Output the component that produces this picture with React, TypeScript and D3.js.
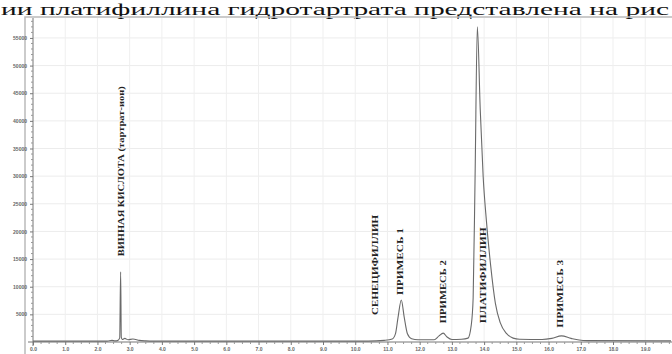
import React, { useRef, useEffect } from 'react';
import * as d3 from 'd3';

// retention time (min) and detector signal
const times = [
  0.0, 2.3, 2.45, 2.55, 2.62, 2.69, 2.72, 2.74, 2.77, 2.85, 2.95, 3.1, 3.3, 3.5, 3.7,
  10.4, 10.9, 11.15, 11.25, 11.33, 11.43, 11.52, 11.62, 11.75, 11.95, 12.45, 12.6, 12.73, 12.85,
  13.0, 13.3, 13.5, 13.6, 13.66, 13.72, 13.79, 13.88, 13.97, 14.07, 14.2, 14.35, 14.5, 14.7, 14.9, 15.1,
  15.8, 16.1, 16.4, 16.7, 16.95, 17.2, 19.8,
];
const signal = [
  150, 150, 300, 200, 250, 700, 12700, 900, 450, 650, 400, 550, 300, 200, 150,
  150, 300, 550, 1500, 4500, 7600, 4500, 1500, 600, 400, 400, 1100, 1600, 900,
  450, 500, 700, 3000, 8000, 30000, 57000, 42000, 30000, 22000, 14000, 7000, 3500, 1500, 700, 500,
  450, 650, 1100, 650, 350, 250, 200,
];

// peak annotations
const peakNames = ['ВИННАЯ КИСЛОТА (тартрат-ион)', 'СЕНЕЦИФИЛЛИН', 'ПРИМЕСЬ 1', 'ПРИМЕСЬ 2', 'ПЛАТИФИЛЛИН', 'ПРИМЕСЬ 3'];
const peakTimes = [2.72, 10.6, 11.4, 12.72, 13.97, 16.35];
const labelBase = [15500, 4900, 8500, 3400, 3400, 2600];
const labelLen = [170, 100, 67, 63, 96, 68];

const yTicks = [5000, 10000, 15000, 20000, 25000, 30000, 35000, 40000, 45000, 50000, 55000];
const xTicks = d3.range(0, 20, 1);

const App = () => {
  const chartRef = useRef(null);

  useEffect(() => {
    const root = d3.select(chartRef.current);
    const width = 672;
    const height = 354;

    const xScale = d3.scaleLinear().domain([0, 19.8]).range([33, 671]);
    const yScale = d3.scaleLinear().domain([0, 59150]).range([342, 15]);

    const svg = root
      .append('svg')
      .attr('width', width)
      .attr('height', height)
      .style('display', 'block')
      .style('background', '#fff');

    // caption line from the document above the figure
    svg
      .append('text')
      .attr('x', 1)
      .attr('y', 15)
      .attr('textLength', 668)
      .attr('lengthAdjust', 'spacingAndGlyphs')
      .style('font-family', '"Liberation Serif", "DejaVu Serif", serif')
      .style('font-size', '17px')
      .style('fill', '#111')
      .text('ии платифиллина гидротартрата представлена на рис');

    // outer frame
    svg
      .append('path')
      .attr('d', `M25,${height} V17 H${width}`)
      .attr('fill', 'none')
      .attr('stroke', '#bbb')
      .attr('stroke-width', 1.5);

    // grid
    svg
      .append('g')
      .selectAll('line')
      .data(yTicks)
      .enter()
      .append('line')
      .attr('x1', 33)
      .attr('x2', width)
      .attr('y1', (d) => yScale(d))
      .attr('y2', (d) => yScale(d))
      .attr('stroke', '#ececec');
    svg
      .append('g')
      .selectAll('line')
      .data(xTicks.slice(1))
      .enter()
      .append('line')
      .attr('x1', (d) => xScale(d))
      .attr('x2', (d) => xScale(d))
      .attr('y1', 18)
      .attr('y2', 342)
      .attr('stroke', '#efefef');

    // y axis
    const yAxis = d3
      .axisLeft(yScale)
      .tickValues(yTicks)
      .tickSize(3)
      .tickFormat((d) => String(d));
    const gy = svg.append('g').attr('transform', 'translate(33,0)').call(yAxis);
    gy.select('.domain').attr('stroke', '#777').attr('d', 'M0,18V346');
    gy.selectAll('line').attr('stroke', '#777');
    gy.selectAll('text')
      .style('font-family', 'Arial, "Liberation Sans", sans-serif')
      .style('font-size', '5px')
      .style('font-weight', 'bold')
      .attr('fill', '#666');
    const yMinor = d3.range(1000, 59000, 1000).filter((d) => d % 5000 !== 0);
    svg
      .append('g')
      .selectAll('line')
      .data(yMinor)
      .enter()
      .append('line')
      .attr('x1', 31)
      .attr('x2', 33)
      .attr('y1', (d) => yScale(d))
      .attr('y2', (d) => yScale(d))
      .attr('stroke', '#999');

    // x axis
    const xAxis = d3
      .axisBottom(xScale)
      .tickValues(xTicks)
      .tickSize(3)
      .tickFormat((d) => d3.format('.1f')(d));
    const gx = svg.append('g').attr('transform', 'translate(0,342)').call(xAxis);
    gx.select('.domain').attr('stroke', '#777').attr('d', `M28,0H${width}`);
    gx.selectAll('line').attr('stroke', '#777');
    gx.selectAll('text')
      .attr('y', 5)
      .style('font-family', 'Arial, "Liberation Sans", sans-serif')
      .style('font-size', '5px')
      .style('font-weight', 'bold')
      .attr('fill', '#666');
    const xMinor = d3.range(0.25, 19.8, 0.25).filter((d) => d % 1 !== 0);
    svg
      .append('g')
      .selectAll('line')
      .data(xMinor)
      .enter()
      .append('line')
      .attr('x1', (d) => xScale(d))
      .attr('x2', (d) => xScale(d))
      .attr('y1', 342)
      .attr('y2', 344)
      .attr('stroke', '#999');

    // chromatogram trace
    const points = times.map((t, i) => [t, signal[i]]);
    const line = d3
      .line()
      .x((d) => xScale(d[0]))
      .y((d) => yScale(d[1]))
      .curve(d3.curveMonotoneX);
    svg
      .append('path')
      .datum(points)
      .attr('d', line)
      .attr('fill', 'none')
      .attr('stroke', '#6a6a6a')
      .attr('stroke-width', 1.1);

    // peak labels
    svg
      .append('g')
      .selectAll('text')
      .data(peakNames)
      .enter()
      .append('text')
      .attr('transform', (d, i) => `translate(${xScale(peakTimes[i])},${yScale(labelBase[i])}) rotate(-90)`)
      .attr('dominant-baseline', 'central')
      .attr('textLength', (d, i) => labelLen[i])
      .attr('lengthAdjust', 'spacingAndGlyphs')
      .style('font-family', '"Liberation Serif", "DejaVu Serif", serif')
      .style('font-size', '9px')
      .style('font-weight', 'bold')
      .attr('fill', '#222')
      .text((d) => d);

    return () => {
      root.selectAll('svg').remove();
    };
  }, []);

  return <div ref={chartRef} style={{ position: 'fixed', left: 0, top: 0 }} />;
};

export default App;
